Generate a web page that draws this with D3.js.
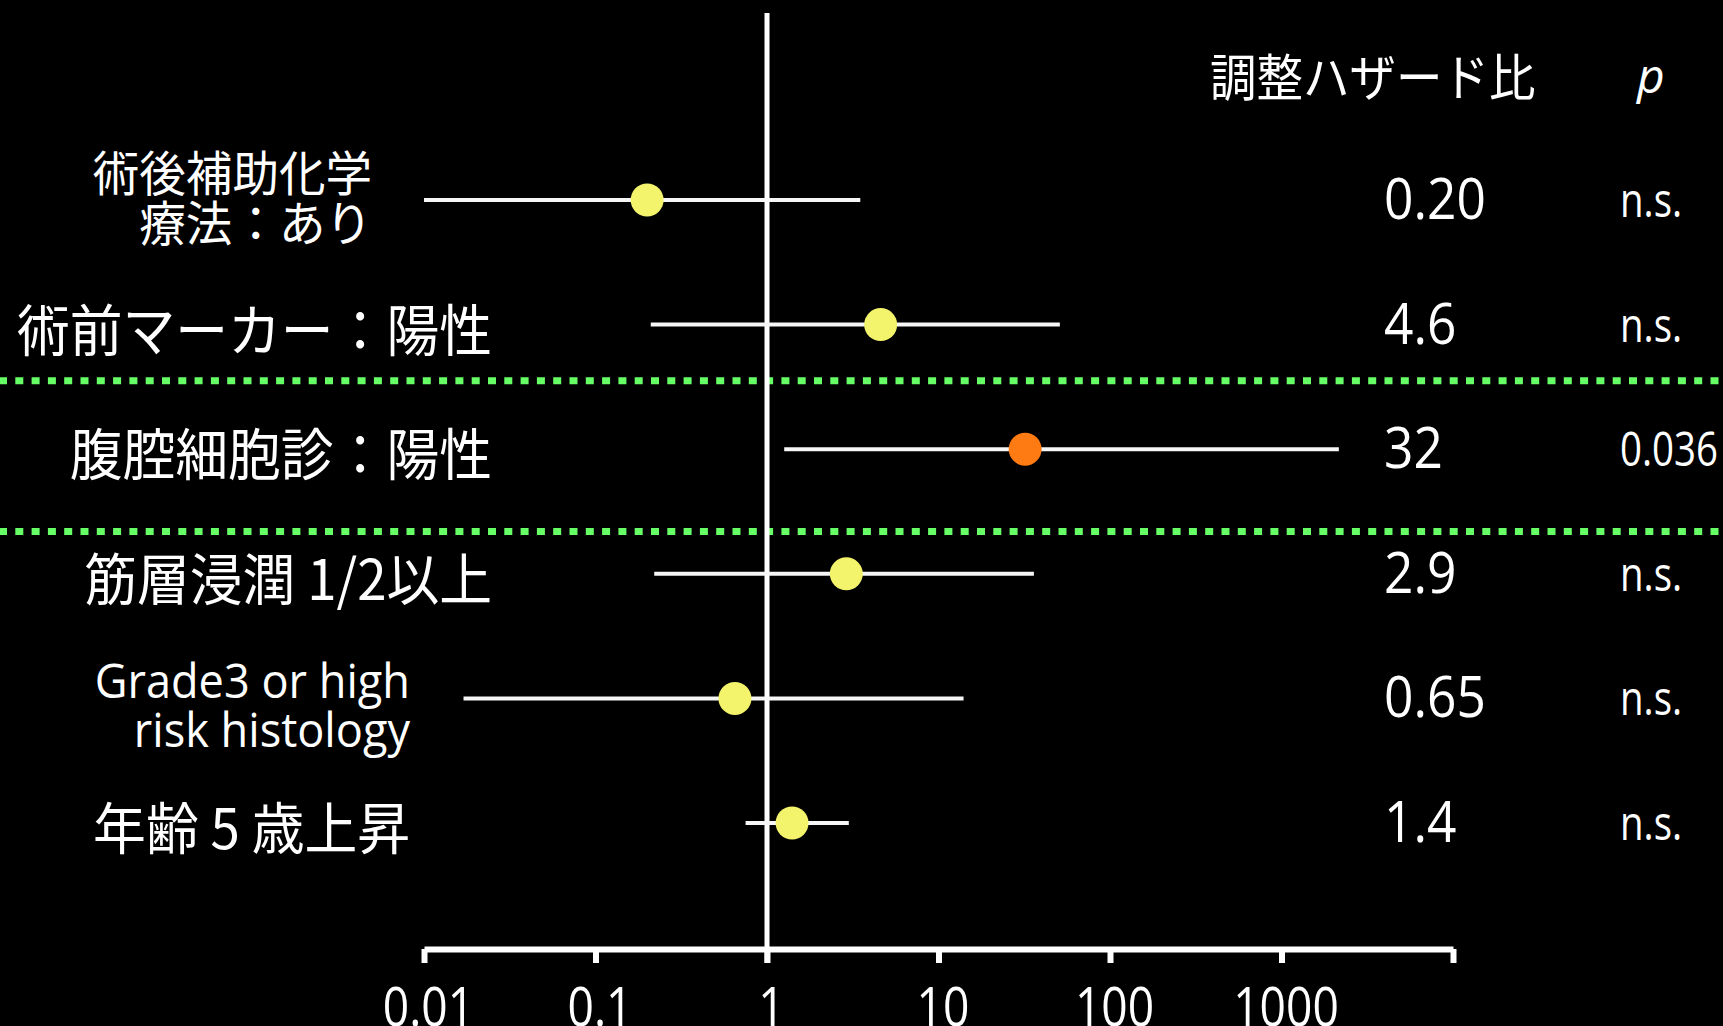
<!DOCTYPE html>
<html>
<head>
<meta charset="utf-8">
<script src="https://cdn.jsdelivr.net/npm/d3@7"></script>
<style>
  html, body { margin: 0; padding: 0; background: #000; }
  svg { display: block; }
</style>
</head>
<body>
<svg id="chart" width="1723" height="1026"></svg>
<script>
// Multivariate analysis: adjusted hazard ratios with 95% confidence intervals
const factors = [
  "術後補助化学\n療法：あり",
  "術前マーカー：陽性",
  "腹腔細胞診：陽性",
  "筋層浸潤 1/2以上",
  "Grade3 or high\nrisk histology",
  "年齢 5 歳上昇"
];
const hazardRatios = [0.20, 4.6, 32, 2.9, 0.65, 1.4];
const ciLower = [0.01, 0.21, 1.26, 0.22, 0.017, 0.75];
const ciUpper = [3.5, 51, 2160, 36, 14, 3.0];
const pValues = ["n.s.", "n.s.", "0.036", "n.s.", "n.s.", "n.s."];
const axisTicks = [0.01, 0.1, 1, 10, 100, 1000, 10000];
const tickLabels = ["0.01", "0.1", "1", "10", "100", "1000", ""];
// dotted group dividers, in row units
const groupSeparators = [1.45, 2.66];
const hrHeader = "調整ハザード比";
const pHeader = "p";

// ---- layout ----
const W = 1723, H = 1026;
const JP = "'Noto Sans CJK JP', 'Noto Sans', sans-serif";
const LAT = "'Open Sans', 'Noto Sans', sans-serif";
const labelRight = [372, 492, 492, 492, 410, 410];

const svg = d3.select("#chart");
svg.append("rect").attr("width", W).attr("height", H).attr("fill", "#000");

const x = d3.scaleLog().domain([0.01, 10000]).range([424, 1453]);
const y = d3.scaleLinear().domain([0, factors.length - 1]).range([200, 823]);

// text with a horizontal squeeze, positioned by its anchor point
function putText(parent, tx, ty, str, o) {
  return parent.append("text")
    .attr("transform", `translate(${tx},${ty}) scale(${o.sx},1)`)
    .attr("text-anchor", o.anchor || "start")
    .attr("dominant-baseline", o.baseline || "auto")
    .attr("font-family", o.family)
    .attr("font-size", o.size)
    .attr("font-weight", o.weight || 400)
    .attr("font-style", o.style || "normal")
    .attr("fill", "#fff")
    .text(str);
}

// group dividers
svg.append("g").selectAll("line").data(groupSeparators).join("line")
  .attr("x1", -1).attr("x2", W)
  .attr("y1", d => y(d)).attr("y2", d => y(d))
  .attr("stroke", "#66ff66").attr("stroke-width", 7)
  .attr("stroke-dasharray", "8 8.3");

// reference line at HR = 1
svg.append("line")
  .attr("x1", x(1)).attr("x2", x(1))
  .attr("y1", 13).attr("y2", 963)
  .attr("stroke", "#fff").attr("stroke-width", 5);

// log axis
const axisG = svg.append("g")
  .attr("transform", "translate(0,949)")
  .style("color", "#fff")
  .call(d3.axisBottom(x)
    .tickValues(axisTicks)
    .tickFormat((d, i) => tickLabels[i])
    .tickSizeInner(14)
    .tickSizeOuter(0)
    .tickPadding(24));
axisG.select(".domain").attr("stroke-width", 6);
axisG.selectAll(".tick line").attr("stroke-width", 6);
axisG.attr("font-family", LAT).attr("font-size", 55).attr("font-weight", 500);
axisG.selectAll(".tick text").attr("transform", "translate(4,0) scale(0.84,1)");

// confidence intervals
svg.append("g").selectAll("line").data(factors).join("line")
  .attr("x1", (d, i) => x(ciLower[i]))
  .attr("x2", (d, i) => x(ciUpper[i]))
  .attr("y1", (d, i) => y(i)).attr("y2", (d, i) => y(i))
  .attr("stroke", "#f6f6f6").attr("stroke-width", 4);

// point estimates
svg.append("g").selectAll("circle").data(hazardRatios).join("circle")
  .attr("cx", d => x(d))
  .attr("cy", (d, i) => y(i))
  .attr("r", 16.5)
  .attr("fill", (d, i) => pValues[i] === "n.s." ? "#f4f46c" : "#fe7a12");

// factor labels
const labels = svg.append("g");
factors.forEach((f, i) => {
  const lines = f.split("\n");
  const isJP = /[\u3000-\u9fff]/.test(f);
  if (isJP && lines.length === 1) {
    putText(labels, labelRight[i], y(i) + 2, f,
      { sx: 0.943, anchor: "end", baseline: "central", family: JP, size: 56 });
  } else if (isJP) {
    lines.forEach((s, k) => putText(labels, labelRight[i], y(i) - 30 + k * 50, s,
      { sx: 0.97, anchor: "end", baseline: "central", family: JP, size: 48 }));
  } else {
    lines.forEach((s, k) => putText(labels, labelRight[i], y(i) + k * 49, s,
      { sx: 0.94, anchor: "end", family: LAT, size: 48 }));
  }
});

// column headers
putText(svg, 1210, 74, hrHeader, { sx: 0.93, baseline: "central", family: JP, size: 50 });
putText(svg, 1637, 93, pHeader, { sx: 1, family: LAT, size: 48, style: "italic" });

// hazard ratio values and p-values
const values = svg.append("g");
hazardRatios.forEach((v, i) => {
  putText(values, 1384, y(i) + 19, v.toPrecision(2), { sx: 0.92, family: LAT, size: 56, weight: 500 });
  putText(values, 1620, y(i) + 17, pValues[i], { sx: 0.8, family: LAT, size: 48 });
});
</script>
</body>
</html>
